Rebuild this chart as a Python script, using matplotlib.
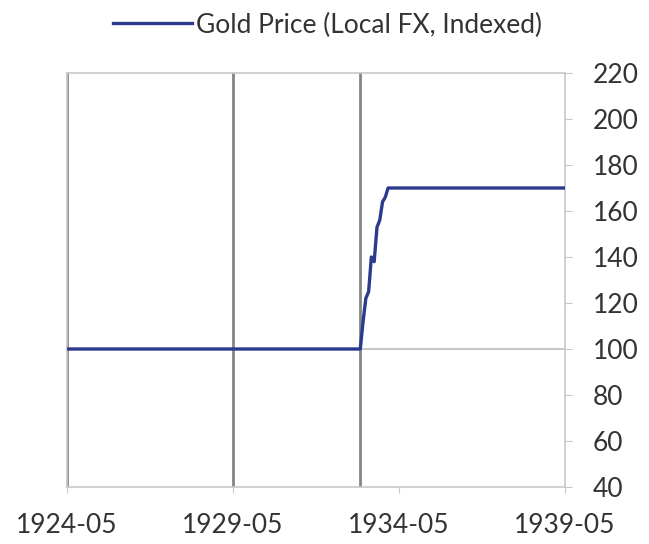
import matplotlib
matplotlib.use("Agg")
import matplotlib.pyplot as plt
import pandas as pd

# Data
dates = ["1924-05", "1933-03", "1933-04", "1933-05", "1933-06", "1933-07", "1933-08",
         "1933-09", "1933-10", "1933-11", "1933-12", "1934-01", "1939-05"]
values = [100, 100, 112, 122, 125, 140, 138, 153, 156, 164, 166, 170, 170]
marker_dates = ["1924-05", "1929-05", "1933-03"]
xtick_labels = ["1924-05", "1929-05", "1934-05", "1939-05"]
yticks = [40, 60, 80, 100, 120, 140, 160, 180, 200, 220]
series_name = "Gold Price (Local FX, Indexed)"

plt.rcParams['font.family'] = ['Lato', 'DejaVu Sans']

x = pd.to_datetime(dates)
fig = plt.figure(figsize=(6.49, 5.44), dpi=100)
ax = fig.add_axes([0.1032, 0.1048, 0.7674, 0.761])

light = "#C8C8C8"
dark = "#858585"
navy = "#2B3A8C"
txt = "#333333"
fs = 19

for d in marker_dates:
    ax.axvline(pd.to_datetime(d), color=dark, lw=2.0, zorder=1)
ax.axhline(100, color=light, lw=1.5, zorder=1)

line, = ax.plot(x, values, color=navy, lw=2.4, zorder=3, label=series_name)

ax.set_xlim(pd.to_datetime("1924-05"), pd.to_datetime("1939-05"))
ax.set_ylim(40, 220)
ax.set_xticks(pd.to_datetime(xtick_labels))
ax.set_xticklabels(xtick_labels)
ax.set_yticks(yticks)
ax.yaxis.tick_right()
for s in ax.spines.values():
    s.set_color(light)
    s.set_linewidth(1.2)
ax.tick_params(axis='y', which='both', length=5, color=light, pad=15, labelsize=fs, labelcolor=txt)
ax.tick_params(axis='x', length=4, color=light, pad=15, labelsize=fs, labelcolor=txt)
for lab in ax.get_yticklabels():
    lab.set_horizontalalignment('left')

fig.legend(handles=[line], loc='center', bbox_to_anchor=(0.505, 0.954), frameon=False,
           fontsize=fs, handlelength=3.0, handletextpad=0.15, labelcolor=txt)

fig.savefig("out.png", dpi=100, facecolor="white")
